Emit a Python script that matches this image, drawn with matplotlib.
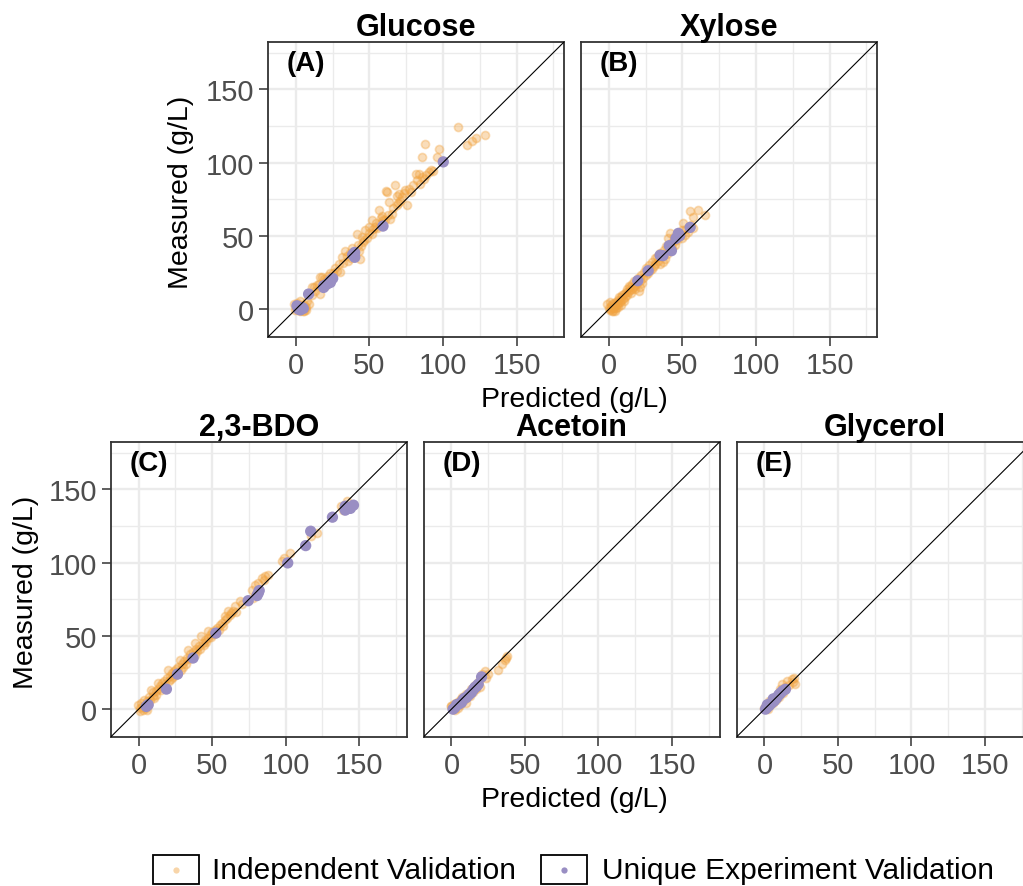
import matplotlib
matplotlib.use('Agg')
import matplotlib.pyplot as plt
from matplotlib.patches import Rectangle
from matplotlib.lines import Line2D

plt.rcParams['font.family'] = ['Liberation Sans', 'DejaVu Sans']

# ---------------- data (predicted, measured) in g/L ----------------
panel_titles = ['Glucose', 'Xylose', '2,3-BDO', 'Acetoin', 'Glycerol']
panel_tags = ['(A)', '(B)', '(C)', '(D)', '(E)']
tick_values = [0, 50, 100, 150]
legend_labels = ['Independent Validation', 'Unique Experiment Validation']

glucose_indep = [
    (-1.6, 3.4), (0.5, 1.0), (1.5, -0.5), (2.5, 2.0), (3.0, -1.1), (4.0, 0.5), (5.2, -1.1), (6.4, 1.1),
    (7.5, 5.7), (8.6, 3.4), (1.0, 4.0), (3.5, 3.0), (5.5, 2.5), (6.8, -0.5), (2.0, 0.0), (0.0, 0.5),
    (4.5, -1.5), (7.0, 1.5), (-0.5, -0.5), (3.0, 5.5),
    (10.9, 14.8), (12.0, 14.8), (15.5, 17.1), (16.6, 21.7), (16.6, 10.2), (17.7, 21.7), (18.9, 20.5),
    (20.0, 19.0), (21.5, 22.5), (24.5, 22.8), (14.0, 16.5), (19.5, 16.0), (22.5, 20.0), (13.0, 12.5),
    (11.0, 10.0), (25.5, 24.5), (23.0, 25.0), (26.5, 28.0), (28.0, 26.3),
    (29.1, 30.8), (30.2, 25.1), (31.4, 35.4), (32.0, 31.5), (33.6, 40.0), (34.8, 36.5), (35.5, 33.0),
    (36.5, 38.5), (37.5, 35.0), (38.0, 41.5), (40.0, 39.0), (41.6, 51.4), (42.7, 40.0), (43.9, 34.2),
    (42.0, 44.0), (44.0, 43.0), (45.0, 49.0), (45.5, 45.5), (46.5, 47.0), (47.3, 53.7), (48.0, 48.5),
    (49.5, 55.9), (50.0, 52.0), (51.8, 51.4), (51.8, 60.5), (52.5, 54.5), (53.5, 56.0), (54.5, 58.5),
    (55.0, 55.5), (56.4, 67.4), (57.5, 58.2), (58.0, 62.0), (58.6, 63.9), (59.5, 60.5), (60.9, 60.5),
    (61.4, 80.4), (62.0, 79.7), (62.5, 64.5), (63.2, 73.1), (64.3, 61.6), (65.5, 65.0), (66.0, 69.0),
    (67.7, 84.5), (68.9, 70.8), (68.9, 77.5), (69.5, 72.5),
    (70.0, 78.8), (71.0, 74.0), (72.3, 76.5), (73.5, 79.5), (74.5, 81.0), (75.7, 71.2), (76.8, 82.2),
    (78.0, 80.0), (79.5, 85.0), (81.4, 92.5), (82.5, 88.0), (83.6, 92.0), (84.5, 85.5), (85.5, 103.9),
    (85.9, 90.0), (87.3, 89.0), (87.7, 112.6), (88.5, 91.5), (90.5, 93.6), (92.0, 95.0), (93.5, 94.0),
    (96.0, 104.0), (97.3, 109.6), (99.0, 101.0),
    (110.0, 124.0), (116.6, 112.0), (119.5, 115.0), (122.7, 117.0), (128.4, 119.0),
]
glucose_unique = [
    (1.8, 0.0), (4.1, 1.1), (0.7, 2.3), (3.0, -0.5), (5.0, 0.5), (8.6, 10.3), (18.9, 16.0), (18.8, 14.8),
    (21.1, 17.1), (23.4, 19.4), (23.4, 18.2), (25.0, 21.0), (38.6, 37.2), (40.0, 35.4), (39.9, 38.7),
    (59.2, 56.7), (100.2, 100.5),
]

xylose_indep = [
    (-1.1, 3.4), (0.0, 0.5), (0.5, -0.5), (1.1, 2.3), (1.5, 0.0), (2.0, 3.5), (2.5, 1.0), (3.0, -1.0),
    (3.4, 1.1), (3.5, 4.5), (4.0, 2.5), (4.5, 4.6), (5.0, 0.5), (5.5, 3.0), (6.0, 6.5), (6.0, 1.5),
    (6.5, 4.0), (7.0, 8.0), (7.5, 5.0), (7.9, 8.0), (8.0, 3.0), (8.5, 6.5), (9.0, 10.0), (9.5, 7.0),
    (10.1, 10.3), (10.0, 5.5), (1.0, 5.0), (2.0, -1.5), (4.0, -1.0), (11.0, 8.5),
    (11.5, 12.0), (12.0, 10.0), (12.5, 14.0), (13.0, 11.5), (13.5, 16.0), (14.0, 13.0), (14.6, 14.9),
    (15.0, 11.0), (15.5, 17.0), (16.0, 14.0), (16.9, 14.9), (17.0, 19.0), (17.5, 16.5), (18.0, 13.5),
    (19.0, 18.0), (20.2, 12.6), (20.0, 21.0), (21.3, 14.9), (21.0, 19.0), (22.0, 23.5), (22.5, 18.0),
    (23.5, 21.5), (24.0, 25.5), (25.0, 23.0), (25.5, 28.0),
    (26.5, 25.0), (27.0, 30.0), (28.0, 27.0), (29.2, 27.6), (29.5, 32.0), (30.5, 29.5), (31.5, 31.0),
    (31.0, 35.0), (32.6, 35.6), (33.5, 33.0), (34.8, 31.0), (35.0, 38.0), (36.0, 36.0), (37.0, 32.2),
    (37.5, 40.5), (38.2, 34.5), (39.3, 37.9), (39.0, 43.0), (40.4, 48.3), (40.5, 40.0), (41.6, 51.7),
    (42.0, 45.0), (43.0, 42.0), (43.8, 46.0), (44.5, 49.5), (45.0, 44.0),
    (46.5, 47.5), (47.0, 52.0), (48.0, 50.0), (49.4, 54.0), (50.6, 58.6), (50.0, 48.5), (51.7, 50.6),
    (52.5, 55.0), (53.5, 52.5), (55.0, 66.7), (55.5, 57.5), (57.3, 63.2), (57.0, 55.5), (60.7, 67.8),
    (65.2, 64.4),
]
xylose_unique = [
    (19.6, 19.4), (26.7, 26.2), (34.8, 36.8), (36.7, 36.5), (41.0, 43.3), (42.5, 39.9), (45.6, 48.3),
    (48.1, 50.1), (47.2, 51.7), (55.2, 55.8),
]

bdo_indep = [
    (0.7, 0.7), (1.8, 4.1), (2.5, 1.5), (3.0, -0.5), (4.0, 3.0), (5.0, 1.0), (5.5, 5.5), (6.5, 2.5),
    (7.0, 8.0), (8.6, 13.2), (8.0, 6.0), (9.5, 9.0), (-0.5, 2.5), (1.0, -1.0), (3.5, 6.0), (6.0, -0.5),
    (10.0, 11.5), (10.5, 7.5),
    (11.5, 12.5), (12.0, 10.0), (13.2, 17.8), (13.5, 14.0), (14.5, 15.5), (15.0, 13.0), (16.0, 18.0),
    (16.5, 15.0), (17.5, 19.5), (18.0, 17.0), (19.0, 21.5), (20.0, 26.9), (20.5, 19.0), (21.0, 22.5),
    (22.0, 20.5), (22.5, 24.5), (23.5, 22.0), (24.0, 26.0), (25.0, 23.5), (25.5, 27.5), (26.5, 25.0),
    (27.0, 29.0), (28.0, 33.7), (28.5, 27.0), (29.5, 31.0), (30.0, 28.5),
    (31.0, 33.0), (32.0, 31.0), (33.0, 35.0), (33.6, 40.5), (34.5, 34.0), (35.0, 37.5), (36.0, 35.5),
    (37.0, 39.0), (38.2, 45.1), (38.0, 37.0), (39.0, 41.0), (40.0, 39.5), (41.0, 43.0), (42.0, 41.0),
    (42.7, 49.7), (43.5, 45.0), (44.5, 43.5), (45.0, 47.5), (46.0, 46.0), (47.3, 53.1), (47.5, 48.5),
    (48.5, 50.5), (49.5, 49.0), (50.0, 52.5), (51.0, 51.0), (52.0, 54.0), (53.5, 55.5), (54.5, 54.0),
    (55.5, 57.5), (56.5, 59.0), (57.5, 57.0), (58.6, 63.3), (59.0, 60.5), (60.0, 62.0),
    (60.9, 66.7), (62.0, 64.0), (63.0, 65.5), (64.0, 67.0), (65.5, 70.2), (66.0, 66.5), (68.9, 73.6),
    (70.0, 72.0), (76.8, 81.5), (78.0, 76.0), (79.1, 85.0), (80.0, 78.5), (81.5, 86.0), (83.6, 89.5),
    (85.0, 88.0), (86.0, 91.0), (88.2, 91.8), (97.3, 100.9), (99.0, 103.0), (103.0, 106.6),
    (117.5, 118.0), (121.1, 120.3), (137.7, 138.5), (141.6, 141.9), (139.0, 136.0),
]
bdo_unique = [
    (5.2, 1.8), (6.5, 3.0), (18.9, 13.7), (26.4, 23.9), (37.0, 34.9), (52.5, 51.9), (74.5, 74.0),
    (81.4, 79.3), (82.0, 80.9), (80.5, 77.5), (101.4, 99.8), (113.6, 111.6), (117.0, 121.4),
    (131.8, 131.0), (140.5, 135.8), (140.5, 138.5), (146.1, 139.2), (144.0, 137.0),
]

acetoin_indep = [
    (-0.5, 2.0), (0.0, 2.3), (1.0, 0.0), (1.5, 3.5), (2.5, -0.5), (3.4, 4.5), (4.5, 1.1), (5.0, 5.5),
    (6.0, 3.0), (6.8, 6.8), (7.5, 8.5), (8.5, 6.0), (10.2, 4.5), (10.0, 10.5), (11.5, 9.0), (12.5, 9.1),
    (13.0, 13.5), (14.5, 12.0), (16.0, 16.5), (17.0, 14.0), (19.3, 14.8), (18.5, 19.5), (20.5, 23.9),
    (22.7, 26.1), (25.0, 23.9), (23.5, 21.0), (31.8, 26.6), (34.1, 30.7), (36.4, 33.4), (38.0, 36.4),
    (37.0, 35.0),
]
acetoin_unique = [
    (1.1, 0.0), (2.3, 1.1), (3.5, 3.0), (5.0, 3.5), (6.8, 4.5), (8.0, 6.5), (10.2, 8.0), (12.0, 10.0),
    (13.6, 11.4), (15.0, 13.5), (15.9, 14.8), (17.0, 15.5), (18.2, 17.0), (20.5, 22.0), (9.0, 7.5),
]

glycerol_indep = [
    (0.0, 1.0), (1.0, 3.0), (1.8, 2.3), (2.5, 0.0), (3.0, 5.7), (4.0, 2.5), (5.0, 6.0), (6.0, 4.0),
    (7.0, 8.5), (8.0, 6.0), (9.0, 10.5), (10.0, 8.0), (10.9, 13.6), (12.0, 17.0), (12.5, 11.0),
    (14.0, 15.0), (15.5, 19.3), (16.5, 16.5), (18.9, 20.5), (21.1, 17.0), (19.5, 18.5), (20.0, 21.5),
]
glycerol_unique = [
    (0.7, 0.0), (1.5, 1.0), (3.0, 2.3), (4.0, 3.5), (5.2, 4.5), (6.5, 5.5), (7.5, 6.8), (8.5, 8.0),
    (9.8, 9.8), (11.0, 11.0), (12.5, 12.5), (14.3, 13.6), (2.0, 3.0), (6.0, 7.0),
]

# ---------------- style ----------------
ORANGE_A = (0.945, 0.639, 0.251, 0.36)
PURPLE = '#998ec3'
GRID = '#EBEBEB'
BORDER = '#333333'
LIM = (-19, 182.3)

W, H = 1023, 887
fig = plt.figure(figsize=(W / 100, H / 100), dpi=100)


def rect(left, top, w=296, h=295):
    return [left / W, 1 - (top + h) / H, w / W, h / H]


layout = [(268, 43, True), (581, 43, False), (110.7, 443, True), (423.5, 443, False), (736.5, 443, False)]
datasets = [(glucose_indep, glucose_unique), (xylose_indep, xylose_unique), (bdo_indep, bdo_unique),
            (acetoin_indep, acetoin_unique), (glycerol_indep, glycerol_unique)]

for i, ((left, top, show_y), (indep, uniq)) in enumerate(zip(layout, datasets)):
    ax = fig.add_axes(rect(left, top))
    ax.set_xlim(*LIM)
    ax.set_ylim(*LIM)
    ax.set_xticks(tick_values)
    ax.set_yticks(tick_values)
    ax.set_xticks([25, 75, 125, 175], minor=True)
    ax.set_yticks([25, 75, 125, 175], minor=True)
    ax.grid(which='major', color=GRID, lw=1.7, zorder=0)
    ax.grid(which='minor', color=GRID, lw=1.0, zorder=0)
    ax.set_axisbelow(True)
    ax.tick_params(which='minor', length=0)
    ax.tick_params(which='major', length=6.5, width=1.1, color=BORDER, labelcolor='#4D4D4D',
                   labelsize=21, pad=3.5)
    if not show_y:
        ax.tick_params(axis='y', left=False, labelleft=False)
    for sp in ax.spines.values():
        sp.set_color(BORDER)
        sp.set_linewidth(1.3)

    ix = [p[0] for p in indep]
    iy = [p[1] for p in indep]
    ux = [p[0] for p in uniq]
    uy = [p[1] for p in uniq]
    ax.scatter(ix, iy, s=34, facecolor=ORANGE_A, edgecolor=ORANGE_A, linewidths=1.2, zorder=2)
    ax.scatter(ux, uy, s=66, color=PURPLE, edgecolor='none', zorder=3)
    ax.axline((0, 0), slope=1, color='black', lw=0.8, zorder=4)

    ax.set_title(panel_titles[i], fontsize=22, fontweight='bold', pad=2)
    ax.text(-6, 168, panel_tags[i], fontsize=20, fontweight='bold', ha='left', va='center')

# axis labels
fig.text(574 / W, 1 - 407 / H, 'Predicted (g/L)', fontsize=20.5, ha='center', va='baseline')
fig.text(574 / W, 1 - 807 / H, 'Predicted (g/L)', fontsize=20.5, ha='center', va='baseline')
fig.text(181 / W, 1 - 192 / H, 'Measured (g/L)', fontsize=20.5, ha='center', va='center', rotation=90)
fig.text(26 / W, 1 - 592 / H, 'Measured (g/L)', fontsize=20.5, ha='center', va='center', rotation=90)

# legend
legend_items = [(153, 211.7, (0.945, 0.639, 0.251, 0.45)), (541, 601.7, PURPLE)]
for (bx, tx, col), lab in zip(legend_items, legend_labels):
    fig.add_artist(Rectangle((bx / W, 1 - 885 / H), 46 / W, 29 / H, transform=fig.transFigure,
                             fill=False, ec='black', lw=1.3))
    fig.add_artist(Line2D([(bx + 23) / W], [1 - 870.5 / H], marker='o', ms=4.5, color=col,
                          mec='none', transform=fig.transFigure))
    fig.text(tx / W, 1 - 879.5 / H, lab, fontsize=21.5, ha='left', va='baseline')

fig.savefig('out.png', dpi=100)
